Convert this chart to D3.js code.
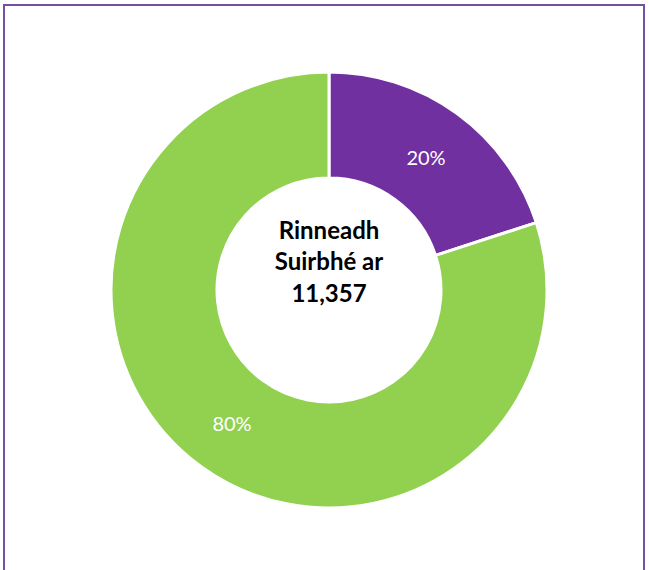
<!DOCTYPE html>
<html lang="ga">
<head>
    <meta charset="UTF-8">
    <title>Rinneadh Suirbhé ar 11,357</title>
    <script src="https://cdn.jsdelivr.net/npm/d3@7"></script>
    <style>
        body { margin: 0; background: #fff; }
        svg { display: block; font-family: Lato, "Open Sans", sans-serif; }
    </style>
</head>
<body>
    <svg width="649" height="570" id="chart"></svg>
    <script>
        // slice values
        const categories = ["Purple", "Green"];
        const values = [20, 80];
        const labels = ["20%", "80%"];
        const colours = ["#7030A0", "#92D050"];
        const centreLines = ["Rinneadh", "Suirbhé ar", "11,357"];

        const svg = d3.select('#chart');

        // frame round the chart
        svg.append('rect')
            .attr('x', 4)
            .attr('y', 5)
            .attr('width', 640)
            .attr('height', 600)
            .attr('fill', 'none')
            .attr('stroke', '#7451a0')
            .attr('stroke-width', 2);

        const cx = 329, cy = 290;
        const outer = 218, inner = 112;

        const pie = d3.pie().sort(null).value(d => d);
        const arc = d3.arc().innerRadius(inner).outerRadius(outer);
        const labelArc = d3.arc().innerRadius(165).outerRadius(165);

        const g = svg.append('g').attr('transform', `translate(${cx},${cy})`);
        const slices = pie(values);

        g.selectAll('path.slice')
            .data(slices)
            .enter()
            .append('path')
            .attr('class', 'slice')
            .attr('d', arc)
            .attr('fill', (d, i) => colours[i])
            .attr('stroke', '#fff')
            .attr('stroke-width', 3);

        g.selectAll('text.pct')
            .data(slices)
            .enter()
            .append('text')
            .attr('class', 'pct')
            .attr('transform', d => `translate(${labelArc.centroid(d)})`)
            .attr('text-anchor', 'middle')
            .attr('dominant-baseline', 'central')
            .attr('fill', '#fff')
            .attr('font-size', 20)
            .text((d, i) => labels[i]);

        g.selectAll('text.centre')
            .data(centreLines)
            .enter()
            .append('text')
            .attr('class', 'centre')
            .attr('x', 0)
            .attr('y', (d, i) => -61 + i * 31.5)
            .attr('text-anchor', 'middle')
            .attr('dominant-baseline', 'central')
            .attr('font-weight', 'bold')
            .attr('font-size', 24)
            .attr('fill', '#000')
            .text(d => d);
    </script>
</body>
</html>
